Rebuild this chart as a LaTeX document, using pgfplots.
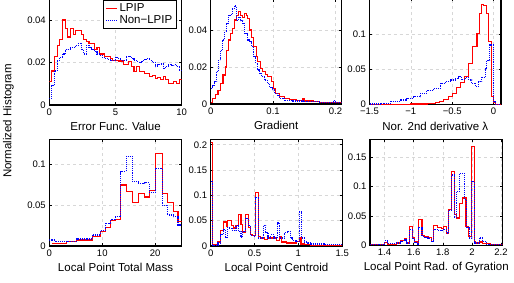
\documentclass[border=0pt]{standalone}
\usepackage{fontspec}
\setmainfont{Liberation Sans}
\usepackage{pgfplots}
\pgfplotsset{compat=1.18}
\definecolor{gridc}{RGB}{215,215,215}
\pgfplotsset{
 hist/.style={
  scale only axis, anchor=south west,
  scaled ticks=false,
  axis line style={line width=1.1pt},
  tick align=inside, major tick length=2.5pt,
  tick style={black, line width=0.6pt},
  grid=major, grid style={dashed, gridc, line width=0.6pt},
  ticklabel style={font=\fontsize{9.5}{10}\selectfont},
  label style={font=\fontsize{11.5}{12}\selectfont},
  xlabel style={at={(axis description cs:0.5,0)}, anchor=base, yshift=-25.5pt},
  clip=true,
 },
 lp/.style={red, solid, line width=1.1pt, const plot, mark=none},
 nl/.style={blue, densely dotted, line width=1.1pt, const plot, mark=none},
}
\begin{document}
\begin{tikzpicture}
\useasboundingbox (0,0) rectangle (514pt,283pt);
% ---------------- Panel 1
\begin{axis}[hist, at={(49.3pt,178pt)}, width=132.4pt, height=106.25pt,
  xmin=0, xmax=10, ymin=0, ymax=0.05,
  xtick={0,5,10}, xticklabels={0,5,10},
  ytick={0,0.02,0.04}, yticklabels={0,0.02,0.04},
  xlabel={Error Func. Value},
  legend cell align=left,
  legend image code/.code={\draw[#1] (0pt,0pt) -- (11pt,0pt);},
  legend style={at={(rel axis cs:0.962,0.988)}, anchor=north east, draw=black, line width=0.8pt,
    font=\fontsize{11.5}{12}\selectfont, inner xsep=2pt, inner ysep=1pt, row sep=-1pt}]
\addplot[lp] coordinates {(0,0.011) (0.2,0.016) (0.4,0.023) (0.6,0.028) (0.8,0.031) (1.0,0.040) (1.2,0.036) (1.4,0.032) (1.6,0.036) (1.8,0.033) (2.0,0.035) (2.2,0.035) (2.4,0.033) (2.6,0.031) (2.8,0.030) (3.0,0.029) (3.2,0.029) (3.4,0.026) (3.6,0.027) (3.8,0.024) (4.0,0.024) (4.2,0.023) (4.4,0.023) (4.6,0.022) (4.8,0.021) (5.0,0.021) (5.2,0.0207) (5.4,0.0207) (5.6,0.019) (5.8,0.019) (6.0,0.0205) (6.2,0.018) (6.4,0.0157) (6.6,0.018) (6.8,0.0157) (7.0,0.0157) (7.2,0.015) (7.4,0.015) (7.6,0.0133) (7.8,0.014) (8.0,0.0126) (8.2,0.013) (8.4,0.012) (8.6,0.0136) (8.8,0.012) (9.0,0.0103) (9.2,0.0103) (9.4,0.011) (9.6,0.010) (9.8,0.012) (10,0.012)};
\addplot[nl] coordinates {(0,0.003) (0.2,0.009) (0.4,0.016) (0.6,0.021) (0.8,0.0225) (1.0,0.024) (1.2,0.026) (1.4,0.026) (1.6,0.027) (1.8,0.027) (2.0,0.028) (2.2,0.029) (2.4,0.026) (2.6,0.024) (2.8,0.028) (3.0,0.027) (3.2,0.026) (3.4,0.025) (3.6,0.024) (3.8,0.0235) (4.0,0.0225) (4.2,0.022) (4.4,0.0215) (4.6,0.021) (4.8,0.021) (5.0,0.0225) (5.2,0.022) (5.4,0.021) (5.6,0.021) (5.8,0.0228) (6.0,0.023) (6.2,0.022) (6.4,0.021) (6.6,0.0205) (6.8,0.020) (7.0,0.021) (7.2,0.0215) (7.4,0.022) (7.6,0.021) (7.8,0.020) (8.0,0.018) (8.2,0.019) (8.4,0.0193) (8.6,0.017) (8.8,0.018) (9.0,0.019) (9.2,0.0185) (9.4,0.019) (9.6,0.018) (9.8,0.0163) (10,0.0163)};
\legend{LPIP, Non−LPIP}
\end{axis}
% ---------------- Panel 2
\begin{axis}[hist, at={(210.7pt,179pt)}, width=131pt, height=104.5pt,
  xmin=0, xmax=0.21, ymin=0, ymax=0.0565,
  xtick={0,0.1,0.2}, xticklabels={0,0.1,0.2},
  ytick={0,0.02,0.04}, yticklabels={0,0.02,0.04},
  xlabel={Gradient}]
\addplot[lp] coordinates {(0,0.001) (0.0035,0.003) (0.0075,0.005) (0.0117,0.0075) (0.016,0.011) (0.0197,0.0157) (0.0234,0.020) (0.026,0.029) (0.0287,0.0346) (0.0319,0.038) (0.035,0.041) (0.0383,0.0454) (0.0415,0.048) (0.0447,0.050) (0.0479,0.048) (0.051,0.047) (0.0543,0.049) (0.057,0.048) (0.0596,0.046) (0.0628,0.040) (0.066,0.036) (0.0691,0.031) (0.073,0.0256) (0.0755,0.023) (0.0798,0.019) (0.0835,0.0175) (0.0872,0.016) (0.0915,0.015) (0.0968,0.012) (0.100,0.0085) (0.104,0.0057) (0.111,0.004) (0.119,0.003) (0.127,0.0025) (0.137,0.002) (0.148,0.003) (0.151,0.0016) (0.164,0.0013) (0.174,0.001) (0.201,0.0008) (0.21,0.0008)};
\addplot[nl] coordinates {(0,0.0084) (0.0032,0.010) (0.0064,0.012) (0.0096,0.0175) (0.0128,0.024) (0.016,0.029) (0.0191,0.0346) (0.0223,0.039) (0.0255,0.0436) (0.0287,0.048) (0.0319,0.0486) (0.0351,0.0517) (0.0383,0.053) (0.0415,0.045) (0.0447,0.047) (0.0479,0.045) (0.0511,0.0436) (0.0543,0.038) (0.0585,0.0346) (0.0628,0.0337) (0.066,0.031) (0.0691,0.0256) (0.0723,0.022) (0.0755,0.0184) (0.0787,0.0166) (0.0819,0.0148) (0.0862,0.013) (0.0904,0.011) (0.0947,0.009) (0.0989,0.0076) (0.102,0.0058) (0.1074,0.0048) (0.111,0.003) (0.119,0.002) (0.132,0.0016) (0.148,0.0012) (0.174,0.001) (0.197,0.0018) (0.2,0.001) (0.21,0.001)};
\end{axis}
% ---------------- Panel 3
\begin{axis}[hist, at={(369.5pt,178.3pt)}, width=131.5pt, height=106pt,
  xmin=-1.5, xmax=0.09, ymin=0, ymax=0.15,
  xtick={-1.5,-1,-0.5,0}, xticklabels={−1.5,−1,−0.5,0},
  ytick={0,0.05,0.1}, yticklabels={0,0.05,0.1},
  xlabel={Nor. 2nd derivative λ}]
\addplot[lp] coordinates {(-1.5,0.0005) (-1.0,0.001) (-0.8,0.0015) (-0.75,0.002) (-0.70,0.003) (-0.65,0.004) (-0.60,0.0075) (-0.55,0.011) (-0.50,0.016) (-0.45,0.0245) (-0.40,0.031) (-0.35,0.0405) (-0.30,0.0585) (-0.25,0.082) (-0.20,0.101) (-0.17,0.129) (-0.15,0.142) (-0.12,0.141) (-0.09,0.129) (-0.06,0.089) (-0.03,0.011) (0.0,0.003) (0.02,0) (0.09,0)};
\addplot[nl] coordinates {(-1.5,0.001) (-1.371,0.002) (-1.25,0.004) (-1.129,0.0066) (-1.048,0.009) (-0.968,0.011) (-0.887,0.016) (-0.806,0.02) (-0.726,0.023) (-0.645,0.030) (-0.585,0.0325) (-0.524,0.035) (-0.464,0.037) (-0.423,0.0396) (-0.383,0.036) (-0.343,0.0387) (-0.302,0.035) (-0.262,0.030) (-0.222,0.026) (-0.181,0.0325) (-0.141,0.0387) (-0.101,0.051) (-0.081,0.063) (-0.048,0.0845) (0.0,0.004) (0.02,0) (0.09,0)};
\end{axis}
% ---------------- Panel 4
\begin{axis}[hist, at={(49.3pt,37pt)}, width=132.4pt, height=106.1pt,
  xmin=0, xmax=25, ymin=0, ymax=0.13,
  xtick={0,10,20}, xticklabels={0,10,20},
  ytick={0,0.05,0.1}, yticklabels={0,0.05,0.1},
  xlabel={Local Point Total Mass}]
\addplot[lp] coordinates {(0.6,0.003) (3.3,0.005) (5.2,0.0073) (8.1,0.012) (9.7,0.0175) (10.6,0.023) (11.6,0.031) (12.5,0.033) (13.5,0.0747) (14.5,0.0665) (15.7,0.053) (16.8,0.0645) (18.0,0.060) (18.9,0.0678) (20.0,0.1135) (21.3,0.0645) (22.4,0.053) (23.4,0.042) (24.3,0.030) (25,0.030)};
\addplot[nl] coordinates {(0,0.0073) (1.1,0.005) (3.3,0.0055) (5.2,0.0086) (8.1,0.0135) (9.7,0.019) (10.6,0.028) (11.6,0.032) (12.5,0.036) (13.5,0.091) (14.5,0.110) (15.7,0.0788) (16.8,0.0767) (18.0,0.0775) (18.9,0.0655) (20.0,0.095) (21.3,0.050) (22.4,0.038) (23.4,0.036) (24.3,0.0257) (25,0.0257)};
\end{axis}
% ---------------- Panel 5
\begin{axis}[hist, at={(210.7pt,37pt)}, width=131.5pt, height=106.3pt,
  xmin=0, xmax=1.5, ymin=0, ymax=0.21,
  xtick={0,0.5,1,1.5}, xticklabels={0,0.5,1,1.5},
  ytick={0,0.05,0.1,0.15,0.2}, yticklabels={0,0.05,0.1,0.15,0.2},
  xlabel={Local Point Centroid}]
\addplot[lp] coordinates {(0,0.204) (0.0226,0.0026) (0.083,0.0079) (0.113,0.030) (0.147,0.0475) (0.177,0.039) (0.195,0.050) (0.233,0.041) (0.263,0.0356) (0.289,0.041) (0.316,0.063) (0.346,0.042) (0.365,0.026) (0.402,0.063) (0.429,0.037) (0.451,0.022) (0.477,0.020) (0.515,0.105) (0.541,0.019) (0.564,0.0158) (0.609,0.0125) (0.647,0.0158) (0.691,0.0158) (0.748,0.0106) (0.785,0.0185) (0.804,0.0079) (0.860,0.006) (0.973,0.0092) (1.011,0.0158) (1.03,0.004) (1.067,0.0026) (1.142,0.0013) (1.5,0.0013)};
\addplot[nl] coordinates {(0,0.128) (0.0226,0.0013) (0.083,0.006) (0.113,0.022) (0.147,0.032) (0.165,0.017) (0.188,0.037) (0.211,0.034) (0.252,0.030) (0.289,0.041) (0.316,0.029) (0.346,0.017) (0.365,0.029) (0.402,0.055) (0.429,0.041) (0.451,0.021) (0.485,0.019) (0.515,0.095) (0.541,0.0158) (0.571,0.0158) (0.601,0.041) (0.628,0.026) (0.654,0.0158) (0.684,0.022) (0.722,0.0158) (0.767,0.0455) (0.785,0.0158) (0.842,0.026) (0.879,0.029) (0.91,0.0158) (0.935,0.0106) (0.973,0.0092) (1.011,0.0673) (1.037,0.0158) (1.067,0.0079) (1.105,0.006) (1.142,0.004) (1.293,0.0026) (1.5,0.0026)};
\end{axis}
% ---------------- Panel 6
\begin{axis}[hist, at={(370pt,37.7pt)}, width=132.5pt, height=105.5pt,
  xmin=1.3, xmax=2.21, ymin=0, ymax=0.18,
  xtick={1.4,1.6,1.8,2,2.2}, xticklabels={1.4,1.6,1.8,2,2.2},
  ytick={0,0.05,0.1,0.15}, yticklabels={0,0.05,0.1,0.15},
  xlabel={Local Point Rad. of Gyration}]
\addplot[lp] coordinates {(1.3,0.0006) (1.4,0.005) (1.42,0.002) (1.48,0.004) (1.51,0.008) (1.536,0.011) (1.552,0.004) (1.573,0.032) (1.589,0.0125) (1.607,0.0057) (1.625,0.0023) (1.636,0.044) (1.657,0.0165) (1.675,0.0142) (1.698,0.0136) (1.72,0.0068) (1.739,0.034) (1.766,0.031) (1.789,0.028) (1.807,0.032) (1.823,0.021) (1.839,0.061) (1.857,0.126) (1.88,0.052) (1.895,0.0466) (1.914,0.072) (1.936,0.0807) (1.959,0.032) (1.975,0.0153) (1.998,0.169) (2.016,0.0068) (2.027,0.004) (2.05,0.0057) (2.073,0.0023) (2.13,0.001) (2.21,0.001)};
\addplot[nl] coordinates {(1.3,0.0006) (1.4,0.008) (1.42,0.003) (1.48,0.004) (1.51,0.007) (1.536,0.009) (1.552,0.004) (1.573,0.027) (1.589,0.011) (1.607,0.005) (1.625,0.002) (1.636,0.03) (1.657,0.015) (1.675,0.013) (1.698,0.012) (1.72,0.006) (1.739,0.027) (1.766,0.026) (1.789,0.026) (1.807,0.027) (1.823,0.021) (1.839,0.060) (1.857,0.120) (1.88,0.048) (1.895,0.092) (1.914,0.123) (1.948,0.078) (1.964,0.03) (1.982,0.0125) (1.998,0.109) (2.016,0.004) (2.05,0.0125) (2.073,0.007) (2.1,0.002) (2.21,0.001)};
\end{axis}
\node[rotate=90, font=\fontsize{11.5}{12}\selectfont] at (8.3pt,162pt) {Normalized Histogram};
\end{tikzpicture}
\end{document}
